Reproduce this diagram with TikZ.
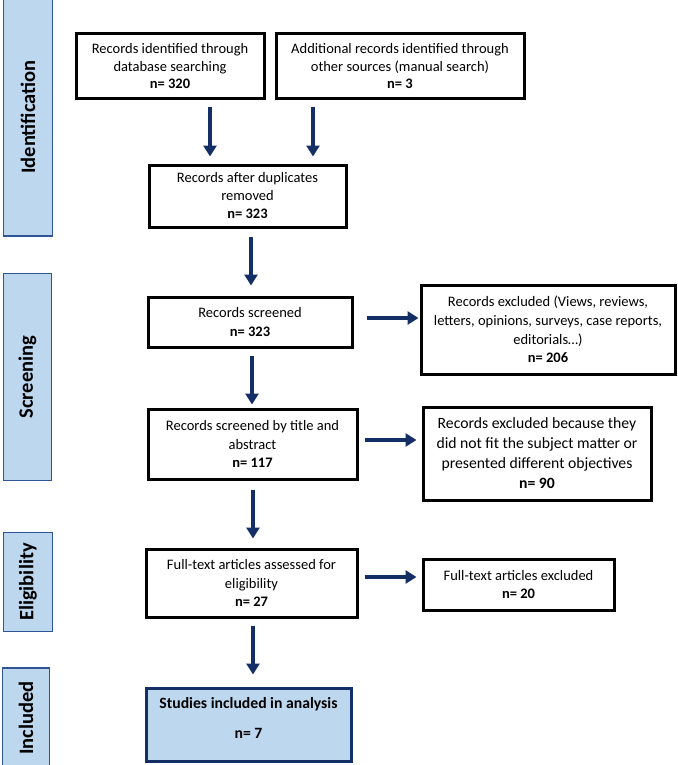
\documentclass[tikz,border=0pt]{standalone}
\usepackage{fontspec}
\setmainfont{Carlito}
\usetikzlibrary{arrows.meta}
\definecolor{lightblue}{HTML}{BDD7EE}
\definecolor{navy}{HTML}{142F66}
\definecolor{barline}{HTML}{2F5597}
\tikzset{
  box/.style={draw=black, line width=3pt, fill=white, inner sep=0pt, align=center,
    font=\fontsize{14.5}{18.5}\selectfont},
  bar/.style={draw=barline, line width=1.5pt, fill=lightblue, inner sep=0pt, rotate=90,
    font=\fontsize{20.5}{24}\selectfont\bfseries},
  arr/.style={draw=navy, line width=4.8pt, -{Triangle[width=13pt,length=11pt]}},
}
\begin{document}
\begin{tikzpicture}[x=1pt,y=-1pt]
\useasboundingbox (0,0) rectangle (677,765);
% side bars
\node[bar, minimum width=238, minimum height=49] (sid) at (28,117) {Identification};
\node[bar, minimum width=207, minimum height=48] (ssc) at (27.5,377) {Screening};
\node[bar, minimum width=99, minimum height=49] (sel) at (28,582) {Eligibility};
\node[bar, minimum width=100, minimum height=47] (sin) at (26,718) {Included};
% boxes
\node[box, minimum width=188, minimum height=65, font=\fontsize{14.5}{17.5}\selectfont] (b1) at (170,66.5)
  {Records identified through\\database searching\\\textbf{n= 320}};
\node[box, minimum width=248, minimum height=65, font=\fontsize{14.5}{17.5}\selectfont] (b2) at (400,66.5)
  {Additional records identified through\\other sources (manual search)\\\textbf{n= 3}};
\node[box, minimum width=197, minimum height=62, font=\fontsize{14.5}{18}\selectfont] (b3) at (247.5,196)
  {Records after duplicates\\removed\\\textbf{n= 323}};
\node[box, minimum width=204, minimum height=50] (b4) at (250,322)
  {Records screened\\\textbf{n= 323}};
\node[box, minimum width=254, minimum height=89] (b5) at (548,329.5)
  {Records excluded (Views, reviews,\\letters, opinions, surveys, case reports,\\editorials…)\\\textbf{n= 206}};
\node[box, minimum width=209, minimum height=70] (b6) at (252.5,444)
  {Records screened by title and\\abstract\\\textbf{n= 117}};
\node[box, minimum width=228, minimum height=93, font=\fontsize{15.7}{20}\selectfont] (b7) at (537,453.5)
  {Records excluded because they\\did not fit the subject matter or\\presented different objectives\\\textbf{n= 90}};
\node[box, minimum width=211, minimum height=68] (b8) at (251.5,583)
  {Full-text articles assessed for\\eligibility\\\textbf{n= 27}};
\node[box, minimum width=191, minimum height=51] (b9) at (518.5,584.5)
  {Full-text articles excluded\\\textbf{n= 20}};
\node[box, draw=navy, fill=lightblue, minimum width=205, minimum height=73,
  font=\fontsize{15.7}{19}\selectfont\bfseries] (b10) at (248.5,724.5)
  {Studies included in analysis\\[11pt]n= 7\rule[-13pt]{0pt}{13pt}};
% vertical arrows
\draw[arr, shorten <=7pt, shorten >=7pt] ([xshift=40pt]b1.south) -- ([xshift=40pt]b1.south |- b3.north);
\draw[arr, shorten <=7pt, shorten >=7pt] ([xshift=-87pt]b2.south) -- ([xshift=-87pt]b2.south |- b3.north);
\draw[arr, shorten <=8pt, shorten >=10pt] ([xshift=3.5pt]b3.south) -- ([xshift=3.5pt]b3.south |- b4.north);
\draw[arr, shorten <=7pt, shorten >=3pt] ([xshift=2pt]b4.south) -- ([xshift=2pt]b4.south |- b6.north);
\draw[arr, shorten <=9pt, shorten >=9pt] ([xshift=0.5pt]b6.south) -- ([xshift=0.5pt]b6.south |- b8.north);
\draw[arr, shorten <=7pt, shorten >=12pt] ([xshift=1.5pt]b8.south) -- ([xshift=1.5pt]b8.south |- b10.north);
% horizontal arrows
\draw[arr, shorten <=13pt, shorten >=1pt] ([yshift=4pt]b4.east) -- ([yshift=4pt]b4.east -| b5.west);
\draw[arr, shorten <=6pt, shorten >=5pt] ([yshift=4pt]b6.east) -- ([yshift=4pt]b6.east -| b7.west);
\draw[arr, shorten <=6pt, shorten >=5pt] ([yshift=6pt]b8.east) -- ([yshift=6pt]b8.east -| b9.west);
\end{tikzpicture}
\end{document}
